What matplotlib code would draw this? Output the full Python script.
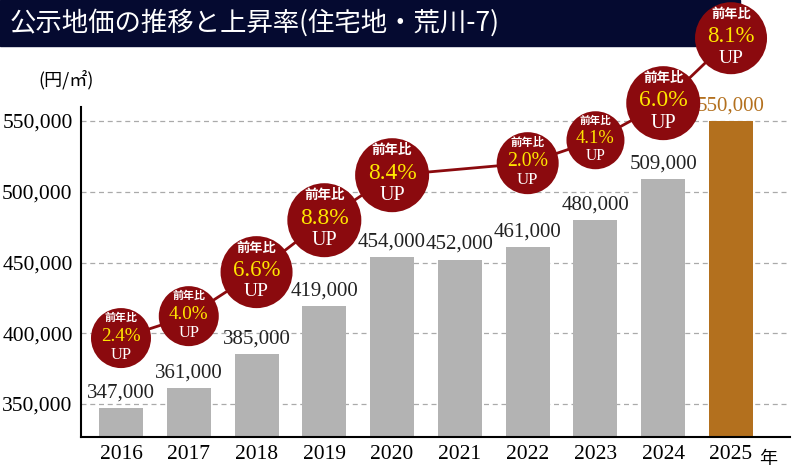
import matplotlib
matplotlib.use("Agg")
import matplotlib.pyplot as plt
from matplotlib.patches import Rectangle

years = ["2016", "2017", "2018", "2019", "2020", "2021", "2022", "2023", "2024", "2025"]
prices = [347000, 361000, 385000, 419000, 454000, 452000, 461000, 480000, 509000, 550000]
rates = ["2.4%", "4.0%", "6.6%", "8.8%", "8.4%", None, "2.0%", "4.1%", "6.0%", "8.1%"]
# bubble centres (value scale) and radii in pixels
bubble_y = [396600, 412100, 443200, 479900, 511700, None, 520200, 536400, 562600, 608500]
bubble_r = [30, 30, 36, 37, 37, None, 31, 29, 37, 36]
yticks = [350000, 400000, 450000, 500000, 550000]

JP = "Noto Sans CJK JP"
SERIF = "Liberation Serif"
DARKRED = "#8b0a0e"

fig = plt.figure(figsize=(8, 4.68), dpi=100)
ax = fig.add_axes([81 / 800, 31 / 468, 709 / 800, 437 / 468])
ax.patch.set_alpha(0)
ax.set_xlim(-0.59, 9.87)
ax.set_ylim(326700, 635500)

x = list(range(len(years)))
colors = ["#b3b3b3"] * 9 + ["#b3701e"]
ax.bar(x, [p - 326700 for p in prices], bottom=326700, width=0.65, color=colors, zorder=2)
for i, p in enumerate(prices):
    ax.text(i, p + 4000, f"{p:,}", ha="center", va="bottom", fontsize=15,
            family=SERIF, color=colors[i] if i == 9 else "#222222", zorder=3)

for v in yticks:
    ax.axhline(v, color="#aaaaaa", ls=(0, (4, 3)), lw=0.9, zorder=1)
ax.set_yticks(yticks)
ax.set_yticklabels([f"{v:,}" for v in yticks], family=SERIF, fontsize=15.5)
ax.set_xticks(x)
ax.set_xticklabels(years, family=SERIF, fontsize=15.5)
ax.tick_params(length=0, pad=6)
for s in ["top", "right"]:
    ax.spines[s].set_visible(False)
ax.spines["left"].set_bounds(326700, 560000)
ax.spines["left"].set_linewidth(1.5)
ax.spines["bottom"].set_linewidth(1.5)
ax.text(9.42, 326700 - 9000, "年", fontsize=13, family=JP, va="top", ha="left")

bx = [i for i in x if bubble_y[i] is not None]
by = [bubble_y[i] for i in bx]
ax.plot(bx, by, color=DARKRED, lw=2, zorder=4, clip_on=False)
for i in bx:
    r = bubble_r[i] * 0.72
    ax.scatter([i], [bubble_y[i]], s=(2 * r) ** 2, color=DARKRED, zorder=5,
               edgecolors="none", clip_on=False)
    k = bubble_r[i] / 36
    ax.text(i, bubble_y[i] + 17000 * k, "前年比", ha="center", va="center",
            fontsize=9.5 * k, family=JP, color="white", weight="bold", zorder=6)
    ax.text(i, bubble_y[i] + 1500 * k, rates[i], ha="center", va="center",
            fontsize=16.5 * k, family=SERIF, color="#ffe600", zorder=6)
    ax.text(i, bubble_y[i] - 14000 * k, "UP", ha="center", va="center",
            fontsize=14 * k, family=SERIF, color="white", zorder=6)

fig.patches.append(Rectangle((0, 1 - 46 / 468), 740 / 800, 46 / 468,
                             transform=fig.transFigure, color="#050a30", zorder=-2))
fig.text(10 / 800, 1 - 23 / 468, "公示地価の推移と上昇率(住宅地・荒川-7)", color="white",
         fontsize=19, family=JP, va="center", ha="left", zorder=-1)
fig.text(38 / 800, 1 - 80 / 468, "(円/㎡)", fontsize=13, family=JP, va="center")

fig.savefig("out.png", dpi=100)
